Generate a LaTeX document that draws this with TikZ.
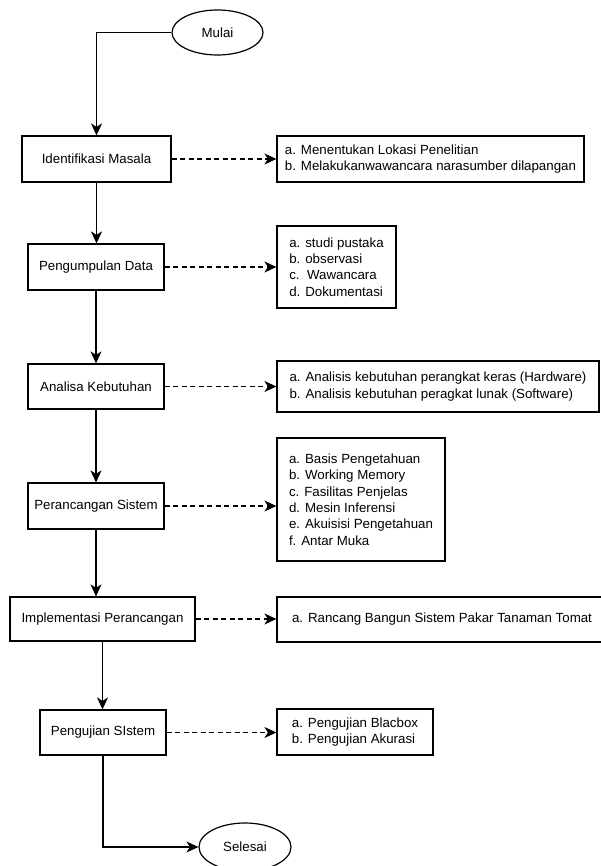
\documentclass[tikz,border=0pt]{standalone}
\usepackage{fontspec}
\setmainfont{Liberation Sans}
\usetikzlibrary{arrows.meta,shapes.geometric}
\begin{document}
\begin{tikzpicture}[x=1pt,y=-1pt,
  every node/.style={font=\fontsize{13.3}{16.3}\selectfont, line width=1.2pt, inner sep=0pt},
  mainbox/.style={draw, rectangle, align=center},
  sidebox/.style={draw, rectangle, align=left},
  oval/.style={draw, ellipse},
  arr/.style={line width=1.2pt, -{Stealth[length=12pt,width=11pt,inset=3.5pt]}},
  darr/.style={line width=1.2pt, dash pattern=on 5pt off 3.5pt, -{Stealth[length=12pt,width=11pt,inset=3.5pt]}}]
\useasboundingbox (0,0) rectangle (601,866);
\fill[white] (0,0) rectangle (601,866);

\node[oval, minimum width=91pt, minimum height=45pt] (mulai) at (217.5,32.5) {Mulai};

\node[mainbox, minimum width=149pt, minimum height=46pt] (id) at (96.5,159) {Identifikasi Masala};
\node[sidebox, minimum width=307pt, minimum height=46pt] (s1) at (430.5,159)
  {a. Menentukan Lokasi Penelitian\\b. Melakukanwawancara narasumber dilapangan};

\node[mainbox, minimum width=136pt, minimum height=46pt] (pd) at (96,267) {Pengumpulan Data};
\node[sidebox, minimum width=119pt, minimum height=82pt] (s2) at (336.5,267)
  {a. studi pustaka\\b. observasi\\c.\ \ Wawancara\\d. Dokumentasi};

\node[mainbox, minimum width=136pt, minimum height=45pt] (ak) at (96,386.5) {Analisa Kebutuhan};
\node[sidebox, minimum width=322pt, minimum height=51pt] (s3) at (438,386.5)
  {a. Analisis kebutuhan perangkat keras (Hardware)\\b. Analisis kebutuhan peragkat lunak (Software)};

\node[mainbox, minimum width=136pt, minimum height=46pt] (ps) at (96,506) {Perancangan Sistem};
\node[sidebox, minimum width=168pt, minimum height=123pt] (s4) at (361,499.5)
  {a. Basis Pengetahuan\\b. Working Memory\\c. Fasilitas Penjelas\\d. Mesin Inferensi\\e. Akuisisi Pengetahuan\\f. Antar Muka};

\node[mainbox, minimum width=185pt, minimum height=44pt] (ip) at (102.5,619) {Implementasi Perancangan};
\node[sidebox, minimum width=330pt, minimum height=45pt] (s5) at (442,619.5)
  {a. Rancang Bangun Sistem Pakar Tanaman Tomat};

\node[mainbox, minimum width=126pt, minimum height=45pt] (pj) at (103,732.5) {Pengujian SIstem};
\node[sidebox, minimum width=156pt, minimum height=46pt] (s6) at (355,732)
  {a. Pengujian Blacbox\\b. Pengujian Akurasi};

\node[oval, minimum width=92pt, minimum height=48pt] (selesai) at (245,847) {Selesai};

% main flow
\draw[arr] (mulai.west) -| (id.north);
\draw[arr] (id.south) -- (id.south |- pd.north);
\draw[arr] (pd.south) -- (pd.south |- ak.north);
\draw[arr] (ak.south) -- (ak.south |- ps.north);
\draw[arr] (ps.south) -- (ps.south |- ip.north);
\draw[arr] (ip.south) -- (ip.south |- pj.north);
\draw[arr] (pj.south) |- (selesai.west);

% dashed side arrows
\draw[darr] (id.east) -- (id.east -| s1.west);
\draw[darr] (pd.east) -- (pd.east -| s2.west);
\draw[darr] (ak.east) -- (ak.east -| s3.west);
\draw[darr] (ps.east) -- (ps.east -| s4.west);
\draw[darr] (ip.east) -- (ip.east -| s5.west);
\draw[darr] (pj.east) -- (pj.east -| s6.west);
\end{tikzpicture}
\end{document}
